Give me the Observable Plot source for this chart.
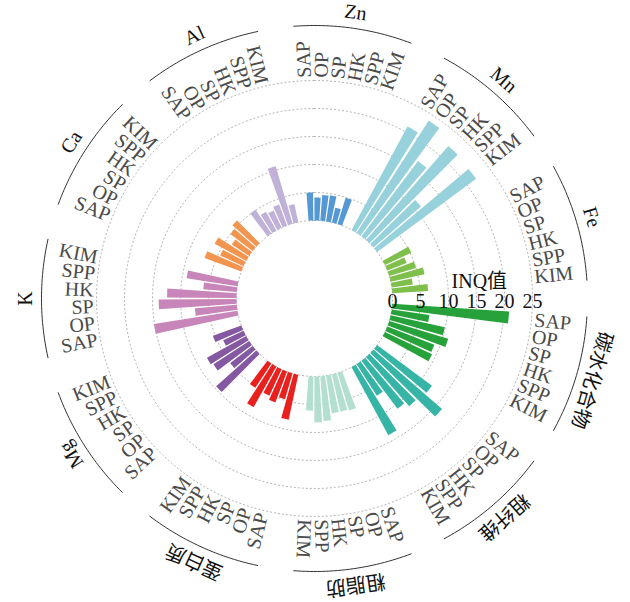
<!DOCTYPE html>
<html>
<head>
<meta charset="utf-8">
<script src="https://cdn.jsdelivr.net/npm/d3@7"></script>
<script src="https://cdn.jsdelivr.net/npm/@observablehq/plot@0.6"></script>
<style>
  body { margin: 0; background: #fff; }
  #chart svg { display: block; }
</style>
</head>
<body>
<div id="chart"></div>
<script>
// Nutrient groups, clockwise from the top
const groups = ["Zn", "Mn", "Fe", "碳水化合物", "粗纤维", "粗脂肪", "蛋白质", "Mg", "K", "Ca", "Al"];
const varieties = ["SAP", "OP", "SP", "HK", "SPP", "KIM"];
const groupColors = ["#5598d3", "#96d1dc", "#7fc04c", "#27a23a", "#36b5a6", "#b3dfd1",
                     "#e8201e", "#8459a1", "#c785b9", "#f3944f", "#bfb1d7"];

// INQ values per group, in the order of varieties
const inqZn      = [5.0, 4.1, 4.6, 4.7, 2.7, 4.9];
const inqMn      = [21.0, 23.8, 16.8, 22.3, 11.2, 22.0];
const inqFe      = [5.2, 3.7, 5.0, 6.2, 3.8, 6.4];
const inqCarb    = [20.9, 6.8, 9.9, 11.0, 9.0, 9.3];
const inqFiber   = [12.2, 16.2, 11.7, 10.7, 6.7, 13.8];
const inqFat     = [7.0, 6.8, 6.8, 8.0, 8.2, 6.1];
const inqProtein = [8.2, 4.8, 5.9, 5.2, 8.3, 5.2];
const inqMg      = [9.6, 5.0, 7.6, 8.0, 4.0, 5.4];
const inqK       = [15.1, 7.5, 13.9, 12.4, 6.0, 9.2];
const inqCa      = [7.0, 4.6, 6.4, 3.7, 5.0, 5.7];
const inqAl      = [5.1, 3.8, 3.4, 4.0, 10.7, 3.3];
const inqByGroup = [inqZn, inqMn, inqFe, inqCarb, inqFiber, inqFat, inqProtein, inqMg, inqK, inqCa, inqAl];

const radialTicks = [0, 5, 10, 15, 20, 25];
const axisTitle = "INQ值";

// ---- layout ----
const W = 630, H = 602, cx = 314, cy = 298;
const perGroup = varieties.length, gapSlots = 1.6;
const slotsTotal = groups.length * (perGroup + gapSlots);
const startDeg = -4.73;

// angular scale: slot index -> degrees clockwise from 12 o'clock
const angle = Plot.scale({x: {domain: [0, slotsTotal], range: [startDeg, startDeg + 360]}});
// radial scale: INQ value -> distance from the centre
const radius = Plot.scale({x: {domain: [0, 25], range: [78, 218]}});

const toXY = (deg, r) => {
  const a = deg * Math.PI / 180;
  return {x: r * Math.sin(a), y: -r * Math.cos(a)};
};

// one row per bar
const bars = [];
inqByGroup.forEach((vals, g) => {
  vals.forEach((v, j) => {
    const slot = g * (perGroup + gapSlots) + j;
    bars.push({
      key: `${groups[g]}-${varieties[j]}`,
      group: groups[g], g, variety: varieties[j], value: v,
      color: groupColors[g],
      a1: angle.apply(slot + 0.09),
      a2: angle.apply(slot + 0.91),
      mid: angle.apply(slot + 0.5)
    });
  });
});

// wedge outlines for every bar
const wedgePts = bars.flatMap(b => {
  const steps = 8, r0 = radius.apply(0), r1 = radius.apply(b.value);
  const inner = d3.range(steps + 1).map(i => toXY(b.a1 + (b.a2 - b.a1) * i / steps, r0));
  const outer = d3.range(steps + 1).map(i => toXY(b.a2 - (b.a2 - b.a1) * i / steps, r1));
  return [...inner, ...outer].map(p => ({...p, key: b.key, color: b.color}));
});

// dotted reference circles
const gridPts = radialTicks.flatMap(t =>
  d3.range(0, 361, 2).map(d => ({...toXY(d, radius.apply(t)), t}))
);

// group extents: arcs and names
const groupInfo = groups.map((name, g) => {
  const s0 = g * (perGroup + gapSlots);
  return {name, g, a1: angle.apply(s0 + 0.09), a2: angle.apply(s0 + perGroup - 0.09),
          mid: angle.apply(s0 + perGroup / 2)};
});
const arcR = 273;
const arcPts = groupInfo.flatMap(gi =>
  d3.range(31).map(i => ({...toXY(gi.a1 + (gi.a2 - gi.a1) * i / 30, arcR), name: gi.name}))
);
const nameR = 289;
const groupLabels = groupInfo.map(gi => ({...toXY(gi.mid, nameR), name: gi.name, rot: gi.mid}));

// variety labels just outside the outer circle
const labelR = 221;
const varLabels = bars.map(b => ({...toXY(b.mid, labelR), text: b.variety, g: b.g, mid: b.mid}));
const labelsOut = varLabels.filter(d => d.g <= 5).map(d => ({...d, rot: d.mid - 90}));
const labelsIn = varLabels.filter(d => d.g > 5).map(d => ({...d, rot: d.mid + 90}));

// radial axis along 3 o'clock
const tickLabels = radialTicks.map(t => ({x: radius.apply(t), y: 3, text: String(t)}));

const serif = "'Liberation Serif', 'Noto Sans CJK SC', serif";

const chart = Plot.plot({
  width: W, height: H, margin: 0,
  x: {domain: [-cx, W - cx], range: [0, W], axis: null},
  y: {domain: [-cy, H - cy], range: [0, H], axis: null},
  color: {type: "identity"},
  style: {background: "#fff", fontFamily: serif},
  marks: [
    Plot.line(gridPts, {x: "x", y: "y", z: "t", stroke: "#b5b5b5", strokeWidth: 1, strokeDasharray: "1.2,2.8"}),
    Plot.line(wedgePts, {x: "x", y: "y", z: "key", fill: "color", stroke: null}),
    Plot.line(arcPts, {x: "x", y: "y", z: "name", stroke: "#333", strokeWidth: 1}),
    Plot.text(groupLabels, {x: "x", y: "y", text: "name", rotate: "rot", fontSize: 20, fill: "#111", fontFamily: serif}),
    Plot.text(labelsOut, {x: "x", y: "y", text: "text", rotate: "rot", textAnchor: "start", fontSize: 20, fill: "#4a4a4a", fontFamily: serif}),
    Plot.text(labelsIn, {x: "x", y: "y", text: "text", rotate: "rot", textAnchor: "end", fontSize: 20, fill: "#4a4a4a", fontFamily: serif}),
    Plot.text(tickLabels, {x: "x", y: "y", text: "text", fontSize: 20, fill: "#111", fontFamily: serif}),
    Plot.text([{x: radius.apply(15.5), y: -17}], {x: "x", y: "y", text: () => axisTitle, fontSize: 20, fill: "#111", fontFamily: serif})
  ]
});
document.getElementById("chart").appendChild(chart);
</script>
</body>
</html>
